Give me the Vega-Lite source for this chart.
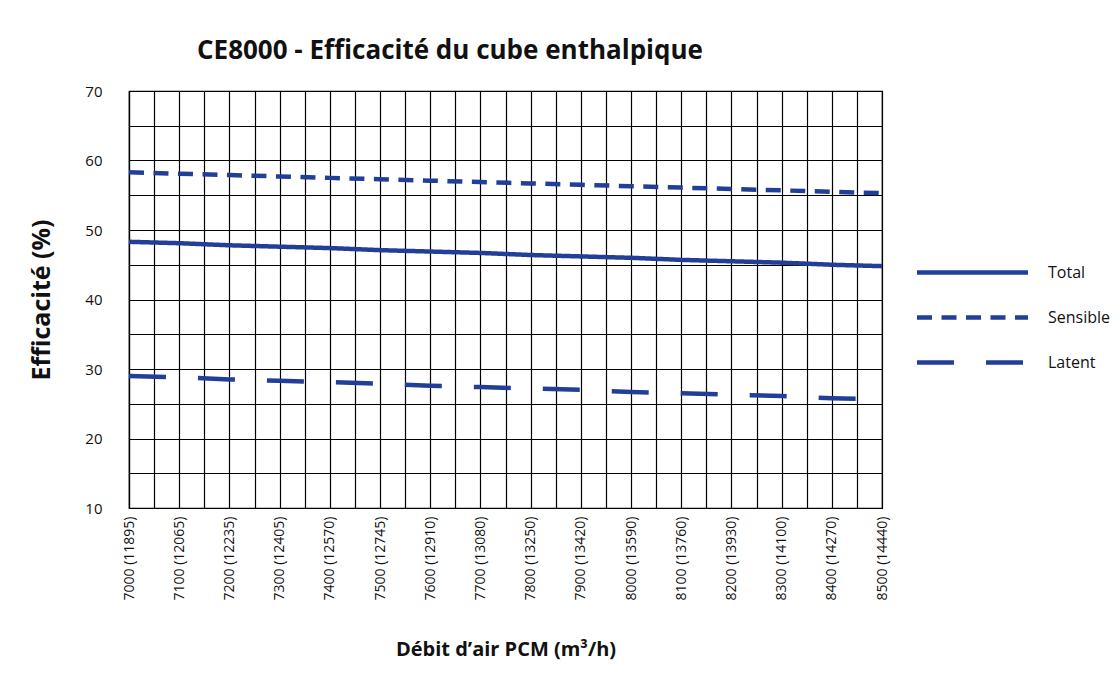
{
  "$schema": "https://vega.github.io/schema/vega-lite/v6.json",
  "autosize": {"type": "none"},
  "width": 753,
  "height": 417,
  "padding": {"left": 129, "top": 91, "right": 238, "bottom": 175},
  "background": "white",
  "title": {
    "text": "CE8000 - Efficacité du cube enthalpique",
    "anchor": "start",
    "frame": "group",
    "dx": 68,
    "offset": 20,
    "font": "Open Sans",
    "fontSize": 26,
    "fontWeight": "bold",
    "color": "#111111"
  },
  "data": {
    "values": [
      {"debit": 7000, "serie": "Total", "eff": 48.3},
      {"debit": 7100, "serie": "Total", "eff": 48.1},
      {"debit": 7200, "serie": "Total", "eff": 47.8},
      {"debit": 7300, "serie": "Total", "eff": 47.6},
      {"debit": 7400, "serie": "Total", "eff": 47.4},
      {"debit": 7500, "serie": "Total", "eff": 47.1},
      {"debit": 7600, "serie": "Total", "eff": 46.9},
      {"debit": 7700, "serie": "Total", "eff": 46.7},
      {"debit": 7800, "serie": "Total", "eff": 46.4},
      {"debit": 7900, "serie": "Total", "eff": 46.2},
      {"debit": 8000, "serie": "Total", "eff": 46.0},
      {"debit": 8100, "serie": "Total", "eff": 45.7},
      {"debit": 8200, "serie": "Total", "eff": 45.5},
      {"debit": 8300, "serie": "Total", "eff": 45.3},
      {"debit": 8400, "serie": "Total", "eff": 45.0},
      {"debit": 8500, "serie": "Total", "eff": 44.8},
      {"debit": 7000, "serie": "Sensible", "eff": 58.3},
      {"debit": 7100, "serie": "Sensible", "eff": 58.1},
      {"debit": 7200, "serie": "Sensible", "eff": 57.9},
      {"debit": 7300, "serie": "Sensible", "eff": 57.7},
      {"debit": 7400, "serie": "Sensible", "eff": 57.5},
      {"debit": 7500, "serie": "Sensible", "eff": 57.3},
      {"debit": 7600, "serie": "Sensible", "eff": 57.1},
      {"debit": 7700, "serie": "Sensible", "eff": 56.9},
      {"debit": 7800, "serie": "Sensible", "eff": 56.7},
      {"debit": 7900, "serie": "Sensible", "eff": 56.5},
      {"debit": 8000, "serie": "Sensible", "eff": 56.3},
      {"debit": 8100, "serie": "Sensible", "eff": 56.1},
      {"debit": 8200, "serie": "Sensible", "eff": 55.9},
      {"debit": 8300, "serie": "Sensible", "eff": 55.7},
      {"debit": 8400, "serie": "Sensible", "eff": 55.5},
      {"debit": 8500, "serie": "Sensible", "eff": 55.3},
      {"debit": 7000, "serie": "Latent", "eff": 29.0},
      {"debit": 7100, "serie": "Latent", "eff": 28.8},
      {"debit": 7200, "serie": "Latent", "eff": 28.5},
      {"debit": 7300, "serie": "Latent", "eff": 28.3},
      {"debit": 7400, "serie": "Latent", "eff": 28.1},
      {"debit": 7500, "serie": "Latent", "eff": 27.9},
      {"debit": 7600, "serie": "Latent", "eff": 27.6},
      {"debit": 7700, "serie": "Latent", "eff": 27.4},
      {"debit": 7800, "serie": "Latent", "eff": 27.2},
      {"debit": 7900, "serie": "Latent", "eff": 27.0},
      {"debit": 8000, "serie": "Latent", "eff": 26.7},
      {"debit": 8100, "serie": "Latent", "eff": 26.5},
      {"debit": 8200, "serie": "Latent", "eff": 26.3},
      {"debit": 8300, "serie": "Latent", "eff": 26.1},
      {"debit": 8400, "serie": "Latent", "eff": 25.8},
      {"debit": 8500, "serie": "Latent", "eff": 25.6}
    ]
  },
  "mark": {"type": "line", "strokeWidth": 4.5, "color": "#213f99", "strokeCap": "butt"},
  "encoding": {
    "x": {
      "field": "debit",
      "type": "quantitative",
      "scale": {"domain": [7000, 8500], "nice": false, "zero": false},
      "axis": {
        "title": "Débit d’air PCM (m³/h)",
        "titleFont": "Open Sans",
        "titleFontSize": 20,
        "titleFontWeight": "bold",
        "titleColor": "#111111",
        "titlePadding": 40,
        "values": [7000, 7050, 7100, 7150, 7200, 7250, 7300, 7350, 7400, 7450, 7500, 7550, 7600, 7650, 7700, 7750, 7800, 7850, 7900, 7950, 8000, 8050, 8100, 8150, 8200, 8250, 8300, 8350, 8400, 8450, 8500],
        "labelExpr": "datum.value % 100 === 0 ? datum.value + ' (' + ['11895','12065','12235','12405','12570','12745','12910','13080','13250','13420','13590','13760','13930','14100','14270','14440'][(datum.value - 7000) / 100] + ')' : ''",
        "labelAngle": -90,
        "labelAlign": "right",
        "labelBaseline": "middle",
        "labelPadding": 8,
        "labelFont": "Open Sans",
        "labelFontSize": 14,
        "labelColor": "#111111",
        "labelOverlap": false,
        "labelFlush": false,
        "ticks": false,
        "grid": true,
        "gridColor": "#000000",
        "gridOpacity": 1,
        "gridWidth": 1.2,
        "domainColor": "#000000",
        "domainWidth": 1.2
      }
    },
    "y": {
      "field": "eff",
      "type": "quantitative",
      "scale": {"domain": [10, 70], "nice": false, "zero": false},
      "axis": {
        "title": "Efficacité (%)",
        "titleFont": "Open Sans",
        "titleFontSize": 25,
        "titleFontWeight": "bold",
        "titleColor": "#111111",
        "titlePadding": 30,
        "values": [10, 15, 20, 25, 30, 35, 40, 45, 50, 55, 60, 65, 70],
        "labelExpr": "datum.value % 10 === 0 ? datum.label : ''",
        "labelPadding": 27,
        "labelFont": "Open Sans",
        "labelFontSize": 15,
        "labelColor": "#111111",
        "ticks": false,
        "grid": true,
        "gridColor": "#000000",
        "gridOpacity": 1,
        "gridWidth": 1.2,
        "domainColor": "#000000",
        "domainWidth": 1.2
      }
    },
    "strokeDash": {
      "field": "serie",
      "type": "nominal",
      "scale": {"domain": ["Total", "Sensible", "Latent"], "range": [[1, 0], [15, 9.5], [37, 32]]},
      "legend": {
        "title": null,
        "orient": "none",
        "legendX": 827,
        "legendY": 165,
        "symbolType": "M-4,0H4",
        "symbolSize": 770,
        "symbolStrokeWidth": 4.5,
        "symbolStrokeColor": "#213f99",
        "symbolFillColor": "transparent",
        "labelFont": "Open Sans",
        "labelFontSize": 16,
        "labelColor": "#111111",
        "labelOffset": 59,
        "rowPadding": 19
      }
    }
  },
  "config": {
    "view": {"stroke": "#000000", "strokeWidth": 1.2}
  }
}
